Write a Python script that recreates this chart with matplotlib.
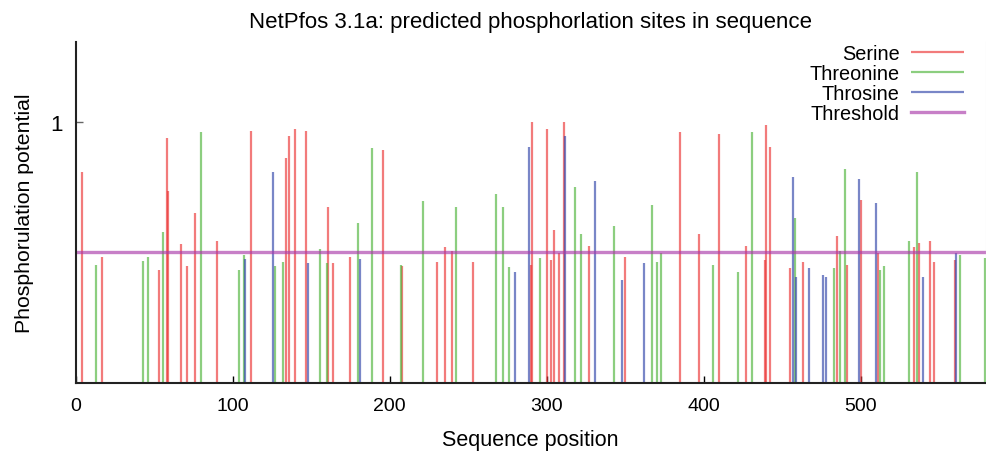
import matplotlib
matplotlib.use('Agg')
import matplotlib.pyplot as plt

plt.rcParams['font.family'] = ['Liberation Sans', 'DejaVu Sans']

# serine sites (position, score)
serine_pos = [4, 17, 53, 58, 59, 67, 71, 76, 90, 112, 134, 136, 140, 147, 161, 164,
              175, 196, 208, 230, 235, 240, 253, 290, 291, 300, 303, 305, 308, 311,
              327, 350, 385, 397, 410, 427, 439, 440, 442, 455, 463, 485, 491, 500,
              511, 534, 537, 544, 547, 560]
serine_score = [0.806, 0.483, 0.434, 0.936, 0.736, 0.532, 0.447, 0.649, 0.545, 0.966,
                0.860, 0.947, 0.972, 0.966, 0.675, 0.458, 0.483, 0.893, 0.447, 0.462,
                0.519, 0.506, 0.462, 0.452, 1.0, 0.972, 0.471, 0.587, 0.496, 0.998,
                0.526, 0.483, 0.959, 0.570, 0.953, 0.526, 0.471, 0.987, 0.904, 0.439,
                0.464, 0.564, 0.452, 0.700, 0.496, 0.519, 0.538, 0.545, 0.464, 0.471]

threonine_pos = [13, 43, 46, 56, 80, 104, 107, 127, 132, 156, 160, 180, 189, 207, 221,
                 242, 268, 272, 276, 296, 318, 322, 343, 367, 370, 373, 406, 422, 431,
                 458, 483, 487, 490, 512, 515, 531, 536, 563, 579]
threonine_score = [0.453, 0.466, 0.483, 0.580, 0.959, 0.434, 0.489, 0.447, 0.464, 0.513,
                   0.458, 0.612, 0.898, 0.453, 0.698, 0.675, 0.723, 0.675, 0.445, 0.477,
                   0.749, 0.570, 0.600, 0.681, 0.464, 0.496, 0.452, 0.426, 0.959, 0.631,
                   0.439, 0.506, 0.819, 0.434, 0.447, 0.545, 0.806, 0.490, 0.477]

tyrosine_pos = [108, 126, 148, 181, 280, 289, 312, 331, 348, 362, 457, 459, 467, 476,
                478, 499, 510, 540, 561]
tyrosine_score = [0.476, 0.806, 0.458, 0.476, 0.426, 0.904, 0.947, 0.774, 0.395, 0.458,
                  0.787, 0.408, 0.439, 0.415, 0.408, 0.781, 0.688, 0.408, 0.496]

threshold = 0.5
seq_len = 579

fig = plt.figure(figsize=(9.87, 4.52), dpi=100)
ax = fig.add_axes([0.0765, 0.150, 0.922, 0.755])

lw = 1.6
ax.vlines(serine_pos, 0, serine_score, color='#eb3434', alpha=0.65, lw=lw, label='Serine')
ax.vlines(threonine_pos, 0, threonine_score, color='#4eb53a', alpha=0.65, lw=lw, label='Threonine')
ax.vlines(tyrosine_pos, 0, tyrosine_score, color='#3245aa', alpha=0.65, lw=lw, label='Throsine')
ax.axhline(threshold, color='#aa3aaa', alpha=0.65, lw=2.4, label='Threshold')

ax.set_xlim(0, seq_len + 0.5)
ax.set_ylim(0, 1.305)
ax.set_xticks([0, 100, 200, 300, 400, 500])
ax.set_yticks([1])
ax.tick_params(axis='x', direction='in', length=5, width=1, pad=10, labelsize=14)
ax.tick_params(axis='y', direction='in', length=5, width=1, color='#666666', pad=9, labelsize=16)

ax.spines['top'].set_visible(False)
ax.spines['right'].set_color('#e0e0e0')
ax.spines['right'].set_linewidth(0.8)
ax.spines['left'].set_linewidth(1.5)
ax.spines['bottom'].set_linewidth(1.5)
ax.spines['left'].set_color('#222222')
ax.spines['bottom'].set_color('#222222')

ax.set_title('NetPfos 3.1a: predicted phosphorlation sites in sequence', fontsize=16, pad=11)
ax.set_xlabel('Sequence position', fontsize=15.5, labelpad=11)
ax.set_ylabel('Phosphorulation potential', fontsize=15.3, labelpad=12)

ax.legend(loc='upper right', bbox_to_anchor=(0.987, 0.922), bbox_transform=fig.transFigure,
          frameon=False, markerfirst=False, fontsize=14.3, handlelength=2.7,
          handletextpad=0.55, labelspacing=0.05, borderpad=0)

fig.savefig('out.png', dpi=100)
